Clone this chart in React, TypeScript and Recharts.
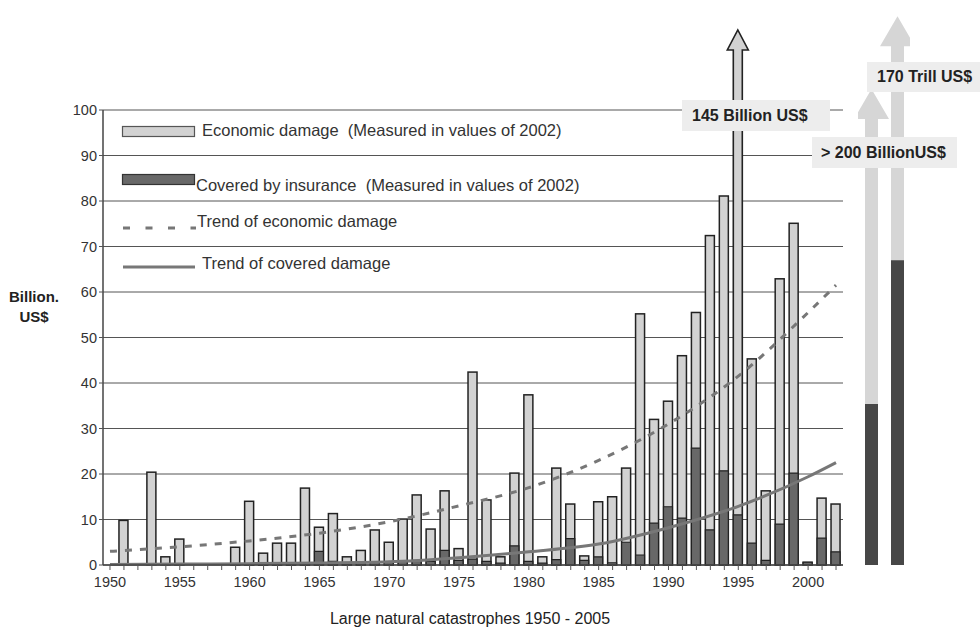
import {
  ComposedChart,
  BarChart,
  Bar,
  Line,
  XAxis,
  YAxis,
  CartesianGrid,
} from "recharts";

// years 1950 - 2002
const years = [
  1950, 1951, 1952, 1953, 1954, 1955, 1956, 1957, 1958, 1959,
  1960, 1961, 1962, 1963, 1964, 1965, 1966, 1967, 1968, 1969,
  1970, 1971, 1972, 1973, 1974, 1975, 1976, 1977, 1978, 1979,
  1980, 1981, 1982, 1983, 1984, 1985, 1986, 1987, 1988, 1989,
  1990, 1991, 1992, 1993, 1994, 1995, 1996, 1997, 1998, 1999,
  2000, 2001, 2002,
];

// economic damage, billion US$ (values of 2002)
const economic = [
  0, 9.8, 0, 20.4, 1.8, 5.7, 0, 0, 0, 3.9,
  14, 2.6, 4.8, 4.8, 16.9, 8.3, 11.3, 1.8, 3.2, 7.7,
  5, 10.1, 15.4, 7.9, 16.3, 3.6, 42.4, 14.3, 1.8, 20.2,
  37.4, 1.8, 21.3, 13.4, 2, 13.9, 15, 21.3, 55.2, 32,
  36, 46, 55.5, 72.4, 81.1, 145, 45.3, 16.3, 62.9, 75.1,
  0.6, 14.7, 13.4,
];

// covered by insurance
const insured = [
  0, 0.2, 0, 0.3, 0.1, 0.3, 0, 0, 0, 0.2,
  0.3, 0.2, 0.3, 0.3, 0.5, 3, 0.8, 0.3, 0.6, 0.6,
  0.6, 0.8, 1, 0.8, 3.2, 1, 1.3, 0.8, 0.4, 4.2,
  0.8, 0.4, 1.2, 5.8, 1, 1.8, 0.5, 5, 2.2, 9.2,
  12.8, 10.3, 25.7, 7.7, 20.7, 11, 4.8, 1, 9, 20.2,
  0.6, 5.9, 2.9,
];

// trend lines, read every 5 years
const trendYears = [1950, 1955, 1960, 1965, 1970, 1975, 1980, 1985, 1990, 1995, 2000, 2002];
const econTrend = [3, 4, 5.3, 7, 9.5, 13, 17, 23, 31, 41.5, 55.5, 61.5];
const coveredTrend = [0.1, 0.2, 0.3, 0.45, 0.7, 1.6, 2.9, 4.6, 8.2, 12.9, 19.4, 22.5];

const yTicks = [0, 10, 20, 30, 40, 50, 60, 70, 80, 90, 100];

// the two bars at the right of the plot
const sideCats = ["> 200 BillionUS$", "170 Trill US$"];
const sideTotal = [98, 114];
const sideInsured = [35.4, 67];

const Y_MAX = 100;
const FONT = "'Liberation Sans', Arial, sans-serif";
const LIGHT = "#d2d2d2";
const DARK = "#686868";
const LINE = "#777";
const TICK_FONT = 14.5;

const data = years.map((year, i) => {
  const t = trendYears.indexOf(year);
  return {
    year,
    economic: economic[i],
    insured: insured[i],
    econTrend: t >= 0 ? econTrend[t] : null,
    coveredTrend: t >= 0 ? coveredTrend[t] : null,
  };
});

const sideData = sideCats.map((name, i) => ({
  name,
  total: sideTotal[i],
  insured: sideInsured[i],
}));

// bar that turns into an arrow when the value is off the scale
const EconShape = (props: any) => {
  const { x, y, width, height, payload } = props;
  if (!payload.economic) return null;
  if (payload.economic > Y_MAX) {
    const bottom = y + height;
    const shaftTop = y - 60;
    const tip = shaftTop - 20;
    const cx = x + width / 2;
    const d = `M${x},${bottom} L${x},${shaftTop} L${x - 6},${shaftTop} L${cx},${tip} L${x + width + 6},${shaftTop} L${x + width},${shaftTop} L${x + width},${bottom} Z`;
    return <path d={d} fill={LIGHT} stroke="#222" strokeWidth={1.6} />;
  }
  return (
    <rect x={x} y={y} width={width} height={height} fill={LIGHT} stroke="#222" strokeWidth={1.5} />
  );
};

const SideArrow = (props: any) => {
  const { x, y, width, height } = props;
  const bottom = y + height;
  const tip = y - 30;
  const cx = x + width / 2;
  const d = `M${x},${bottom} L${x},${y} L${x - 11},${y} L${cx},${tip} L${x + width + 11},${y} L${x + width},${y} L${x + width},${bottom} Z`;
  return <path d={d} fill="#d6d6d6" />;
};

const legendText = (left: number, center: number): React.CSSProperties => ({
  position: "absolute",
  left,
  top: center - 10,
  lineHeight: "20px",
  fontSize: 16.5,
  color: "#333",
  whiteSpace: "nowrap",
});

const box: React.CSSProperties = {
  position: "absolute",
  background: "#ededed",
  fontWeight: "bold",
  fontSize: 16,
  color: "#222",
  display: "flex",
  alignItems: "center",
  whiteSpace: "nowrap",
  boxSizing: "border-box",
};

export default function App() {
  return (
    <div
      style={{
        position: "absolute",
        left: 0,
        top: 0,
        width: 980,
        height: 631,
        background: "#fff",
        fontFamily: FONT,
      }}
    >
      <ComposedChart
        width={980}
        height={631}
        data={data}
        margin={{ top: 110, right: 137, bottom: 36, left: 63 }}
        barSize={9}
        barGap={-9}
      >
        <CartesianGrid vertical={false} stroke="#555" strokeWidth={1} />
        <XAxis
          dataKey="year"
          interval={0}
          height={30}
          tickSize={5}
          tickMargin={7}
          tickFormatter={(v) => (v % 5 === 0 ? String(v) : "")}
          axisLine={{ stroke: "#444", strokeWidth: 1.5 }}
          tickLine={{ stroke: "#555" }}
          tick={{ fontSize: TICK_FONT, fill: "#333", fontFamily: FONT }}
        />
        <YAxis
          width={40}
          domain={[0, Y_MAX]}
          ticks={yTicks}
          tickSize={4}
          axisLine={{ stroke: "#444", strokeWidth: 1.5 }}
          tickLine={{ stroke: "#555" }}
          tick={{ fontSize: TICK_FONT, fill: "#333", fontFamily: FONT }}
        />
        <Bar
          dataKey={(d: any) => Math.min(d.economic, Y_MAX)}
          shape={<EconShape />}
          isAnimationActive={false}
        />
        <Bar
          dataKey="insured"
          fill={DARK}
          stroke="#222"
          strokeWidth={1.2}
          isAnimationActive={false}
        />
        <Line
          type="monotone"
          dataKey="econTrend"
          stroke={LINE}
          strokeWidth={3}
          strokeDasharray="7 8"
          dot={false}
          connectNulls
          isAnimationActive={false}
        />
        <Line
          type="monotone"
          dataKey="coveredTrend"
          stroke={LINE}
          strokeWidth={3}
          dot={false}
          connectNulls
          isAnimationActive={false}
        />
      </ComposedChart>

      {/* bars beside the plot */}
      <div style={{ position: "absolute", left: 858, top: 0 }}>
        <BarChart
          width={52}
          height={631}
          data={sideData}
          margin={{ top: 19, right: 0, bottom: 66, left: 0 }}
          barSize={13}
          barGap={-13}
        >
          <XAxis dataKey="name" hide />
          <YAxis domain={[0, 120]} hide />
          <Bar dataKey="total" shape={<SideArrow />} isAnimationActive={false} />
          <Bar dataKey="insured" fill="#474747" isAnimationActive={false} />
        </BarChart>
      </div>

      {/* legend */}
      <svg width={80} height={160} style={{ position: "absolute", left: 120, top: 120 }}>
        <rect x={2.5} y={6.5} width={72} height={10} fill={LIGHT} stroke="#555" strokeWidth={1.2} />
        <rect x={2.5} y={54.5} width={72} height={10} fill={DARK} stroke="#333" strokeWidth={1.2} />
        <line x1={3} y1={108} x2={76} y2={108} stroke={LINE} strokeWidth={3} strokeDasharray="7 15.5" />
        <line x1={3} y1={147} x2={75} y2={147} stroke={LINE} strokeWidth={3} />
      </svg>
      <div style={legendText(202, 130)}>Economic damage&nbsp; (Measured in values of 2002)</div>
      <div style={legendText(196, 185)}>Covered by insurance&nbsp; (Measured in values of 2002)</div>
      <div style={legendText(197, 221)}>Trend of economic damage</div>
      <div style={legendText(202, 263)}>Trend of covered damage</div>

      {/* annotations */}
      <div style={{ ...box, left: 682, top: 100, width: 148, height: 31, paddingLeft: 10 }}>
        145 Billion US$
      </div>
      <div style={{ ...box, left: 867, top: 62, width: 113, height: 30, paddingLeft: 10 }}>
        170 Trill US$
      </div>
      <div style={{ ...box, left: 812, top: 137, width: 145, height: 31, paddingLeft: 9 }}>
        &gt; 200 BillionUS$
      </div>

      {/* axis titles */}
      <div
        style={{
          position: "absolute",
          left: 0,
          top: 287,
          width: 68,
          textAlign: "center",
          fontWeight: "bold",
          fontSize: 15,
          lineHeight: "20px",
          color: "#222",
        }}
      >
        Billion.
        <br />
        US$
      </div>
      <div
        style={{
          position: "absolute",
          left: 270,
          top: 610,
          width: 400,
          textAlign: "center",
          fontSize: 16,
          color: "#222",
        }}
      >
        Large natural catastrophes 1950 - 2005
      </div>
    </div>
  );
}
